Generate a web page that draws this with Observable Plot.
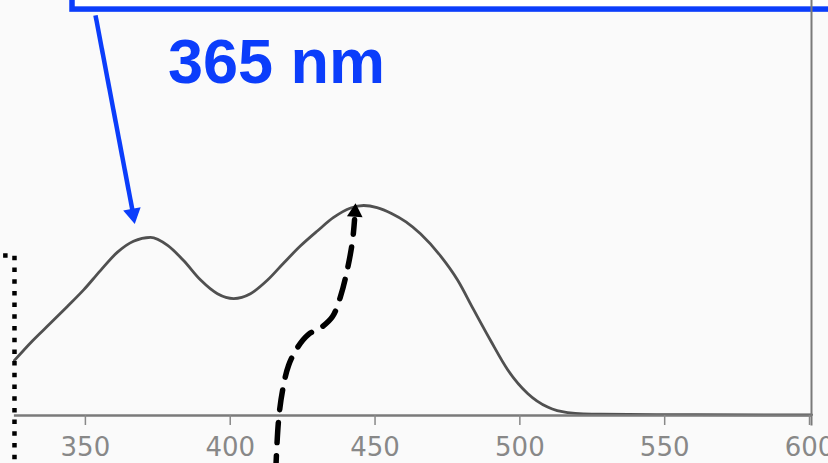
<!DOCTYPE html>
<html>
<head>
<meta charset="utf-8">
<script src="https://cdn.jsdelivr.net/npm/d3@7"></script>
<script src="https://cdn.jsdelivr.net/npm/@observablehq/plot@0.6"></script>
<style>
  html, body { margin: 0; padding: 0; background: #fafafa; }
  #chart { width: 828px; height: 463px; overflow: hidden; }
</style>
</head>
<body>
<div id="chart"></div>
<script>
// Absorption spectrum (wavelength in nm, relative absorbance)
const wavelength = [324.8, 331, 337.3, 343, 348.7, 354.5, 360.4, 365.9, 371.8, 377.7, 383.2, 389.1,
  394.9, 400.5, 406.3, 412.2, 417.7, 423.6, 429.5, 435.0, 440.9, 445.4, 450, 455, 460,
  465.0, 471.9, 477.8, 483.3, 489.2, 495.1, 502.0, 508.9, 515.8, 527.2, 560, 600];
const absorbance = [0.262, 0.355, 0.440, 0.518, 0.598, 0.690, 0.778, 0.830, 0.848, 0.810, 0.738, 0.645,
  0.580, 0.557, 0.580, 0.645, 0.725, 0.808, 0.880, 0.943, 0.988, 1.000, 0.990, 0.962, 0.922,
  0.865, 0.760, 0.645, 0.505, 0.357, 0.218, 0.105, 0.040, 0.014, 0.006, 0.004, 0.003];
const xTicks = [350, 400, 450, 500, 550, 600];

// Annotations (data coordinates)
const labelText = ["365 nm"];
const labelX = [377.8];
const labelY = [1.581];
const boxX = [344.86, 620];
const boxY = [1.933, 2.3];
const blueArrowX = [352.8, 365.58];
const blueArrowY = [1.905, 0.975];
const blueHeadX = [365.7];
const blueHeadY = [0.96];
const blueHeadAngle = [169.4];
const dashX = [414.96, 415.99, 417.38, 419.45, 422.55, 426.35, 431.19, 434.64, 437.40, 439.82, 441.55, 442.24];
const dashY = [-0.286, -0.024, 0.119, 0.238, 0.324, 0.386, 0.424, 0.471, 0.567, 0.700, 0.833, 0.933];
const blackHeadX = [442.4];
const blackHeadY = [0.968];
const blackHeadAngle = [3.4];
const dottedX = [320.9, 324.83, 324.83];
const dottedY = [0.762, 0.762, -0.3];

const spectrum = wavelength.map((w, i) => ({w, a: absorbance[i]}));
const dashPts = dashX.map((x, i) => ({x, y: dashY[i]}));
const dotPts = dottedX.map((x, i) => ({x, y: dottedY[i]}));
const blue = "#0b3dfb";

const chart = Plot.plot({
  width: 828,
  height: 463,
  marginLeft: 0,
  marginRight: 17,
  marginTop: 0,
  marginBottom: 48,
  style: {background: "#fafafa", fontFamily: "DejaVu Sans", overflow: "visible"},
  x: {domain: [320, 600], label: null, axis: null},
  y: {domain: [0, 415 / 210], label: null, axis: null},
  marks: [
    Plot.rect([0], {x1: boxX[0], x2: boxX[1], y1: boxY[0], y2: boxY[1],
      fill: "white", stroke: blue, strokeWidth: 5.5}),
    Plot.line(spectrum, {x: "w", y: "a", curve: "monotone-x",
      stroke: "#505050", strokeWidth: 2.8}),
    Plot.ruleY([0], {x1: 324.8, x2: 600, stroke: "#7a7a7a", strokeWidth: 2.5}),
    Plot.ruleX([600], {y1: -0.05, y2: 415 / 210, stroke: "#7a7a7a", strokeWidth: 2}),
    Plot.axisX({ticks: xTicks, tickSize: 10, tickPadding: 12, fontSize: 26,
      color: "#888", strokeWidth: 1.5, dx: -2, tickFormat: d => String(d)}),
    Plot.line(dotPts, {x: "x", y: "y", stroke: "black", strokeWidth: 4.5,
      strokeDasharray: "4.5,7.2", strokeLinecap: "butt", strokeLinejoin: "miter"}),
    Plot.line(dashPts, {x: "x", y: "y", curve: "catmull-rom", stroke: "black",
      strokeWidth: 5.5, strokeDasharray: "20,13"}),
    Plot.dot([0], {x: blackHeadX[0], y: blackHeadY[0], symbol: "triangle", r: 5.8,
      rotate: blackHeadAngle[0], fill: "black", stroke: "none"}),
    Plot.link([0], {x1: blueArrowX[0], y1: blueArrowY[0], x2: blueArrowX[1], y2: blueArrowY[1],
      stroke: blue, strokeWidth: 4.5}),
    Plot.dot([0], {x: blueHeadX[0], y: blueHeadY[0], symbol: "triangle", r: 6.6,
      rotate: blueHeadAngle[0], fill: blue, stroke: "none"}),
    Plot.text(labelText, {x: labelX, y: labelY, text: d => d, textAnchor: "start",
      lineAnchor: "bottom", fontSize: 63, fontWeight: "bold",
      fontFamily: "Liberation Sans", fill: blue})
  ]
});
document.getElementById("chart").appendChild(chart);
</script>
</body>
</html>
